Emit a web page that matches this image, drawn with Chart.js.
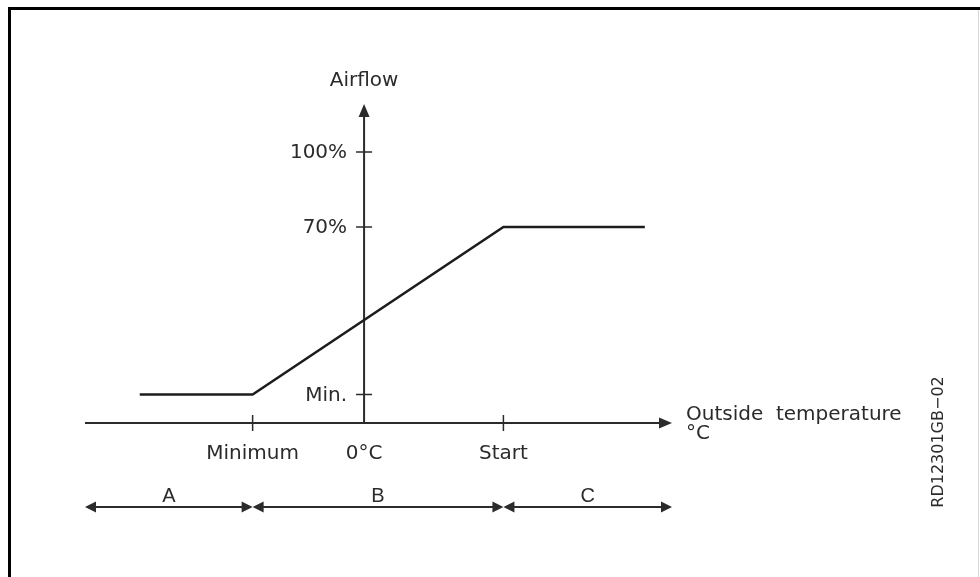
<!DOCTYPE html>
<html>
<head>
<meta charset="utf-8">
<script src="https://cdn.jsdelivr.net/npm/chart.js@4/dist/chart.umd.min.js"></script>
<style>
  html, body { margin: 0; padding: 0; background: #fff; }
  #wrap { position: relative; width: 980px; height: 577px; }
</style>
</head>
<body>
<div id="wrap"><canvas id="chart" width="980" height="577"></canvas></div>
<script>
// airflow curve (x = outside temperature, arbitrary units; y = airflow %)
const tempX = [-32.2, -16, 20, 40.3];
const airflowY = [3, 3, 70, 70];

const xTickValues = [-16, 0, 20];
const xTickLabels = ['Minimum', '0°C', 'Start'];
const yTickValues = [3, 70, 100];
const yTickLabels = ['Min.', '70%', '100%'];

const xMin = -40.06, xMax = 44.2;
const yMin = -8.4, yMax = 119.2;

const zoneLabels = ['A', 'B', 'C'];
const zoneEdges = [xMin, -16, 20, xMax];

const INK = '#2b2b2b';
const FONT = '20px "DejaVu Sans"';

function arrowHead(ctx, tipX, tipY, dx, dy, len, half) {
  // dx, dy: unit direction the arrow points to
  const bx = tipX - dx * len, by = tipY - dy * len;
  ctx.beginPath();
  ctx.moveTo(tipX, tipY);
  ctx.lineTo(bx - dy * half, by + dx * half);
  ctx.lineTo(bx + dy * half, by - dx * half);
  ctx.closePath();
  ctx.fill();
}

const diagram = {
  id: 'diagram',
  beforeDatasetsDraw(chart) {
    const { ctx, scales: { x, y }, chartArea } = chart;
    const x0 = x.getPixelForValue(0);
    const yAxis = y.getPixelForValue(yMin);
    ctx.save();
    ctx.strokeStyle = INK;
    ctx.fillStyle = INK;
    ctx.lineWidth = 2;

    // frame
    ctx.fillStyle = '#000';
    ctx.fillRect(8, 7, 972, 3);
    ctx.fillRect(8, 7, 3, 570);
    ctx.fillStyle = '#d8d8d8';
    ctx.fillRect(978, 10, 1, 567);
    ctx.fillStyle = INK;

    // x axis
    ctx.beginPath();
    ctx.moveTo(chartArea.left, yAxis);
    ctx.lineTo(chartArea.right - 10, yAxis);
    ctx.stroke();
    arrowHead(ctx, chartArea.right, yAxis, 1, 0, 13, 5.5);

    // y axis
    ctx.beginPath();
    ctx.moveTo(x0, yAxis);
    ctx.lineTo(x0, chartArea.top + 10);
    ctx.stroke();
    arrowHead(ctx, x0, chartArea.top, 0, -1, 13, 5.5);

    // ticks
    ctx.lineWidth = 1.5;
    ctx.font = FONT;
    ctx.textBaseline = 'alphabetic';
    xTickValues.forEach((v, i) => {
      const px = x.getPixelForValue(v);
      if (v !== 0) {
        ctx.beginPath();
        ctx.moveTo(px, yAxis - 8);
        ctx.lineTo(px, yAxis + 8);
        ctx.stroke();
      }
      ctx.textAlign = 'center';
      ctx.fillText(xTickLabels[i], px, 459);
    });
    yTickValues.forEach((v, i) => {
      const py = y.getPixelForValue(v);
      ctx.beginPath();
      ctx.moveTo(x0 - 8, py);
      ctx.lineTo(x0 + 8, py);
      ctx.stroke();
      ctx.textAlign = 'right';
      ctx.textBaseline = 'middle';
      ctx.fillText(yTickLabels[i], x0 - 17, py + 1);
      ctx.textBaseline = 'alphabetic';
    });

    // axis titles
    ctx.textAlign = 'center';
    ctx.fillText('Airflow', x0, 86);
    ctx.textAlign = 'left';
    ctx.fillText('Outside  temperature', 686, 420);
    ctx.fillText('°C', 686, 439);

    // zones
    const zy = 507;
    ctx.lineWidth = 2;
    zoneLabels.forEach((lab, i) => {
      const a = x.getPixelForValue(zoneEdges[i]);
      const b = x.getPixelForValue(zoneEdges[i + 1]);
      ctx.beginPath();
      ctx.moveTo(a + 8, zy);
      ctx.lineTo(b - 8, zy);
      ctx.stroke();
      arrowHead(ctx, a, zy, -1, 0, 11, 5.5);
      arrowHead(ctx, b, zy, 1, 0, 11, 5.5);
      ctx.font = '20px "Liberation Sans"';
      ctx.textAlign = 'center';
      ctx.fillText(lab, (a + b) / 2, 502);
    });

    // drawing number
    ctx.font = '16px "DejaVu Sans"';
    ctx.translate(943, 442);
    ctx.rotate(-Math.PI / 2);
    ctx.textAlign = 'center';
    ctx.fillText('RD12301GB\u221202', 0, 0);
    ctx.restore();
  }
};

new Chart(document.getElementById('chart'), {
  type: 'scatter',
  data: {
    datasets: [{
      data: tempX.map((t, i) => ({ x: t, y: airflowY[i] })),
      showLine: true,
      borderColor: '#1c1c1c',
      borderWidth: 2.5,
      pointRadius: 0,
      tension: 0,
    }],
  },
  options: {
    responsive: false,
    animation: false,
    layout: { padding: { left: 85, right: 308, top: 104, bottom: 154 } },
    plugins: { legend: { display: false }, tooltip: { enabled: false } },
    scales: {
      x: { type: 'linear', min: xMin, max: xMax, display: false },
      y: { type: 'linear', min: yMin, max: yMax, display: false },
    },
  },
  plugins: [diagram],
});
</script>
</body>
</html>
